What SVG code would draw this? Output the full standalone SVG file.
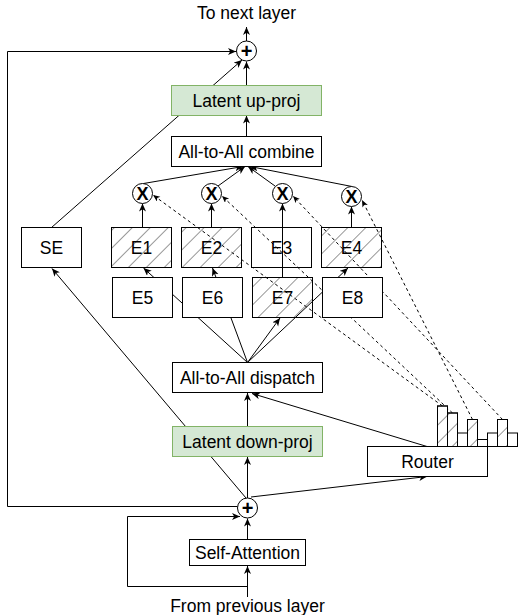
<svg xmlns="http://www.w3.org/2000/svg" width="518" height="615" viewBox="0 0 518 615">
<defs>
<style>
.t{font-family:"Liberation Sans",Arial,Helvetica,sans-serif;font-size:17.5px;text-anchor:middle;fill:#000}
.op{font-family:"Liberation Sans",Arial,Helvetica,sans-serif;text-anchor:middle;fill:#000}
.box{fill:#fff;stroke:#000;stroke-width:1}
.clear{fill:none;stroke:#000;stroke-width:1}
.green{fill:#d5e8d4;stroke:#82b366;stroke-width:1}
.hatch{fill:url(#hatch);stroke:#000;stroke-width:1}
.bar{fill:#fff;stroke:#000;stroke-width:1}
.barh{fill:url(#hatch);stroke:#000;stroke-width:1}
.circ{fill:#fff;stroke:#000;stroke-width:1}
.ln{fill:none;stroke:#000;stroke-width:1}
.arr{fill:none;stroke:#000;stroke-width:1;marker-end:url(#ah)}
.dash{fill:none;stroke:#000;stroke-width:1;stroke-dasharray:3 3;marker-end:url(#ahs)}
</style>
<pattern id="hatch" patternUnits="userSpaceOnUse" width="12.7" height="12.7" patternTransform="rotate(45)">
<line x1="0" y1="0" x2="0" y2="12.7" stroke="#444" stroke-width="1.1"/>
</pattern>
<marker id="ah" markerUnits="userSpaceOnUse" markerWidth="10" markerHeight="10" refX="8" refY="3.5" orient="auto">
<path d="M0,0 L8,3.5 L0,7 L2.2,3.5 Z" fill="#000"/>
</marker>
<marker id="ahs" markerUnits="userSpaceOnUse" markerWidth="8" markerHeight="8" refX="7" refY="3" orient="auto">
<path d="M0,0 L7,3 L0,6 L1.8,3 Z" fill="#000"/>
</marker>
</defs>
<rect width="518" height="615" fill="#fff"/>

<g id="connectors">
<line class="arr" x1="246.5" y1="41" x2="246.5" y2="27"/>
<path class="arr" d="M237.5,506.5 H7.5 V51.5 H236"/>
<line class="arr" x1="246.5" y1="85.5" x2="246.5" y2="61.5"/>
<line class="arr" x1="51.5" y1="227.5" x2="242" y2="60"/>
<line class="arr" x1="246.5" y1="136.5" x2="246.5" y2="115.5"/>
<line class="arr" x1="143.5" y1="183.5" x2="243" y2="166.5"/>
<line class="arr" x1="218" y1="186" x2="245" y2="166.5"/>
<line class="arr" x1="275" y1="186" x2="248" y2="166.5"/>
<line class="arr" x1="352" y1="186.5" x2="250" y2="166.5"/>
<line class="arr" x1="142.5" y1="227.5" x2="142.5" y2="203.5"/>
<line class="arr" x1="211.5" y1="227.5" x2="211.5" y2="203.5"/>
<line class="arr" x1="282.5" y1="277.5" x2="282.5" y2="203.5"/>
<line class="arr" x1="351.5" y1="227.5" x2="351.5" y2="206.5"/>
<line class="arr" x1="247.5" y1="362.5" x2="143.5" y2="268"/>
<line class="arr" x1="247.5" y1="362.5" x2="212.5" y2="268"/>
<line class="arr" x1="247.5" y1="362.5" x2="280" y2="318"/>
<line class="arr" x1="247.5" y1="362.5" x2="348" y2="268"/>
<line class="arr" x1="247.5" y1="426.5" x2="247.5" y2="393"/>
<line class="arr" x1="247.5" y1="498" x2="247.5" y2="457"/>
<line class="arr" x1="246" y1="498" x2="52" y2="268.5"/>
<line class="arr" x1="251" y1="497" x2="427" y2="476.5"/>
<line class="arr" x1="427" y1="446.5" x2="252" y2="393.5"/>
<line class="arr" x1="247.5" y1="539.5" x2="247.5" y2="518.5"/>
<line class="arr" x1="247.5" y1="597" x2="247.5" y2="566"/>
<path class="arr" d="M247.5,586.5 H127.5 V516.5 H240"/>
<line class="dash" x1="442.5" y1="406" x2="153" y2="195"/>
<line class="dash" x1="452.5" y1="413" x2="222" y2="196"/>
<line class="dash" x1="502.5" y1="419.5" x2="293" y2="196"/>
<line class="dash" x1="472.5" y1="419.5" x2="362" y2="200"/>
</g>

<g id="label-top"><text class="t" x="246.5" y="18.5">To next layer</text></g>
<g id="add-top"><circle class="circ" cx="246.5" cy="51" r="10"/><text class="op" x="246.5" y="58" font-size="20" font-weight="bold">+</text></g>
<g id="latent-up"><rect class="green" x="171.5" y="85.5" width="150" height="30"/><text class="t" x="246.5" y="107">Latent up-proj</text></g>
<g id="combine"><rect class="box" x="171.5" y="136.5" width="150" height="30"/><text class="t" x="246.5" y="157.5">All-to-All combine</text></g>
<g id="mul1"><circle class="circ" cx="142.5" cy="193.5" r="10"/><text class="op" x="142.5" y="200" font-size="18" font-weight="bold">X</text></g>
<g id="mul2"><circle class="circ" cx="211.5" cy="193.5" r="10"/><text class="op" x="211.5" y="200" font-size="18" font-weight="bold">X</text></g>
<g id="mul3"><circle class="circ" cx="282.5" cy="193.5" r="10"/><text class="op" x="282.5" y="200" font-size="18" font-weight="bold">X</text></g>
<g id="mul4"><circle class="circ" cx="351.5" cy="196.5" r="10"/><text class="op" x="351.5" y="203" font-size="18" font-weight="bold">X</text></g>
<g id="SE"><rect class="box" x="21.5" y="227.5" width="60" height="40"/><text class="t" x="51.5" y="253.5">SE</text></g>
<g id="E1"><rect class="hatch" x="111.5" y="227.5" width="60" height="40"/><text class="t" x="141.5" y="253.5">E1</text></g>
<g id="E2"><rect class="hatch" x="181.5" y="227.5" width="60" height="40"/><text class="t" x="211.5" y="253.5">E2</text></g>
<g id="E3"><rect class="clear" x="251.5" y="227.5" width="60" height="40"/><text class="t" x="281.5" y="253.5">E3</text></g>
<g id="E4"><rect class="hatch" x="321.5" y="227.5" width="60" height="40"/><text class="t" x="351.5" y="253.5">E4</text></g>
<g id="E5"><rect class="box" x="112.5" y="277.5" width="60" height="40"/><text class="t" x="142.5" y="303.5">E5</text></g>
<g id="E6"><rect class="box" x="182.5" y="277.5" width="60" height="40"/><text class="t" x="212.5" y="303.5">E6</text></g>
<g id="E7"><rect class="hatch" x="252.5" y="277.5" width="60" height="40"/><text class="t" x="282.5" y="303.5">E7</text></g>
<g id="E8"><rect class="box" x="322.5" y="277.5" width="60" height="40"/><text class="t" x="352.5" y="303.5">E8</text></g>
<g id="dispatch"><rect class="box" x="172.5" y="362.5" width="150" height="30"/><text class="t" x="247.5" y="383.5">All-to-All dispatch</text></g>
<g id="latent-down"><rect class="green" x="172.5" y="426.5" width="150" height="30"/><text class="t" x="247.5" y="448">Latent down-proj</text></g>
<g id="router"><rect class="box" x="367.5" y="446.5" width="120" height="30"/><text class="t" x="427.5" y="467.5">Router</text></g>
<g id="router-scores">
<rect class="bar" x="437.5" y="406" width="10" height="40.5"/>
<rect class="barh" x="437.5" y="406" width="10" height="40.5"/>
<rect class="bar" x="447.5" y="413" width="10" height="33.5"/>
<rect class="barh" x="447.5" y="413" width="10" height="33.5"/>
<rect class="bar" x="457.5" y="433" width="10" height="13.5"/>
<rect class="bar" x="467.5" y="419.5" width="10" height="27"/>
<rect class="barh" x="467.5" y="419.5" width="10" height="27"/>
<rect class="bar" x="477.5" y="439.5" width="10" height="7"/>
<rect class="bar" x="487.5" y="433" width="10" height="13.5"/>
<rect class="bar" x="497.5" y="419.5" width="10" height="27"/>
<rect class="barh" x="497.5" y="419.5" width="10" height="27"/>
<rect class="bar" x="507.5" y="433" width="10" height="13.5"/>
</g>
<g id="add-bottom"><circle class="circ" cx="247.5" cy="508" r="10"/><text class="op" x="247.5" y="515" font-size="20" font-weight="bold">+</text></g>
<g id="self-attention"><rect class="box" x="189.5" y="539.5" width="116" height="26"/><text class="t" x="247.5" y="558.5">Self-Attention</text></g>
<g id="label-bottom"><text class="t" x="247.5" y="611.5">From previous layer</text></g>
</svg>
